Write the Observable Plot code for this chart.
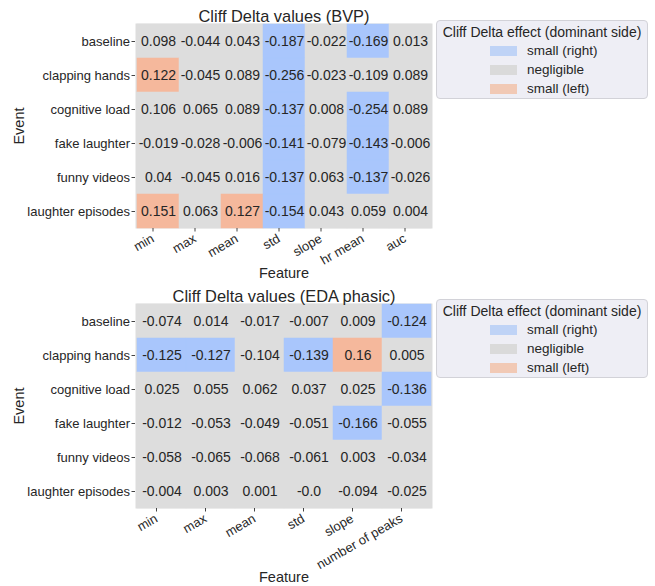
<!DOCTYPE html>
<html>
<head>
<meta charset="utf-8">
<script src="https://cdn.jsdelivr.net/npm/d3@7"></script>
<script src="https://cdn.jsdelivr.net/npm/@observablehq/plot@0.6"></script>
<style>
  html, body { margin: 0; padding: 0; background: #ffffff; }
  body { width: 655px; height: 586px; position: relative; overflow: hidden;
         font-family: 'Liberation Sans', Arial, sans-serif; color: #262626; }
  #top { position: absolute; left: 0; top: 0; }
  #bottom { position: absolute; left: 0; top: 285px; }
  .legend { position: absolute; left: 436px; width: 212px; height: 79px;
            background: rgba(234,234,242,0.8); border: 1px solid #d2d2d8; border-radius: 4px; box-sizing: border-box; }
  .legend .ttl { position: absolute; left: 0; width: 100%; text-align: center; font-size: 14px; line-height: 16px; white-space: nowrap; }
  .legend .sw { position: absolute; left: 53px; width: 27px; height: 10px; }
  .legend .lb { position: absolute; left: 90px; font-size: 13.5px; line-height: 16px; white-space: nowrap; }
</style>
</head>
<body>
<div id="top"></div>
<div id="bottom"></div>
<script>
// ---- data ----
const events = ["baseline", "clapping hands", "cognitive load", "fake laughter", "funny videos", "laughter episodes"];

const featuresBVP = ["min", "max", "mean", "std", "slope", "hr mean", "auc"];
const valuesBVP = [
  [0.098, -0.044, 0.043, -0.187, -0.022, -0.169, 0.013],
  [0.122, -0.045, 0.089, -0.256, -0.023, -0.109, 0.089],
  [0.106, 0.065, 0.089, -0.137, 0.008, -0.254, 0.089],
  [-0.019, -0.028, -0.006, -0.141, -0.079, -0.143, -0.006],
  [0.04, -0.045, 0.016, -0.137, 0.063, -0.137, -0.026],
  [0.151, 0.063, 0.127, -0.154, 0.043, 0.059, 0.004]
];
const effectsBVP = [
  ["N", "N", "N", "R", "N", "R", "N"],
  ["L", "N", "N", "R", "N", "N", "N"],
  ["N", "N", "N", "R", "N", "R", "N"],
  ["N", "N", "N", "R", "N", "R", "N"],
  ["N", "N", "N", "R", "N", "R", "N"],
  ["L", "N", "L", "R", "N", "N", "N"]
];

const featuresEDA = ["min", "max", "mean", "std", "slope", "number of peaks"];
const valuesEDA = [
  [-0.074, 0.014, -0.017, -0.007, 0.009, -0.124],
  [-0.125, -0.127, -0.104, -0.139, 0.16, 0.005],
  [0.025, 0.055, 0.062, 0.037, 0.025, -0.136],
  [-0.012, -0.053, -0.049, -0.051, -0.166, -0.055],
  [-0.058, -0.065, -0.068, -0.061, 0.003, -0.034],
  [-0.004, 0.003, 0.001, -0.0, -0.094, -0.025]
];
const effectsEDA = [
  ["N", "N", "N", "N", "N", "R"],
  ["R", "R", "N", "R", "L", "N"],
  ["N", "N", "N", "N", "N", "R"],
  ["N", "N", "N", "N", "R", "N"],
  ["N", "N", "N", "N", "N", "N"],
  ["N", "N", "N", "N", "N", "N"]
];

const effectCodes = ["R", "N", "L"];
const effectNames = ["small (right)", "negligible", "small (left)"];
const cellColors = ["#a9c6fc", "#dddddd", "#f5b89c"];
const swatchColors = ["#bfd3f6", "#dadada", "#f1c9b5"];
const titles = ["Cliff Delta values (BVP)", "Cliff Delta values (EDA phasic)"];
const legendTitle = "Cliff Delta effect (dominant side)";

// ---- helpers ----
function fmt(v) { return Object.is(v, -0) ? "-0.0" : String(v); }
function rows(features, values, effects) {
  const out = [];
  events.forEach((ev, i) => features.forEach((f, j) => {
    out.push({event: ev, feature: f, value: values[i][j],
              effect: effectNames[effectCodes.indexOf(effects[i][j])]});
  }));
  return out;
}

function heatmap(title, features, values, effects, opts) {
  const data = rows(features, values, effects);
  return Plot.plot({
    width: 440,
    height: opts.height,
    marginLeft: 135,
    marginRight: 8,
    marginTop: opts.marginTop,
    marginBottom: opts.marginBottom,
    style: {fontFamily: "'Liberation Sans', Arial, sans-serif", fontSize: "13px", color: "#262626", background: "transparent", overflow: "visible"},
    x: {domain: features, padding: 0, label: null},
    y: {domain: events, padding: 0, label: null},
    color: {domain: effectNames, range: cellColors},
    marks: [
      Plot.frame({fill: "#dddddd", stroke: null}),
      Plot.cell(data, {x: "feature", y: "event", fill: "effect", stroke: "effect", strokeWidth: 0.5, inset: 0}),
      Plot.text(data, {x: "feature", y: "event", text: d => fmt(d.value), fontSize: 14, fill: "#262626"}),
      Plot.axisX({tickRotate: -30, tickSize: 3.5, tickPadding: 5.5, dx: -5.5, fontSize: 13, label: null, stroke: "#444"}),
      Plot.axisY({tickSize: 3.5, tickPadding: 2, fontSize: 13, label: null, stroke: "#444"}),
      Plot.text([title], {frameAnchor: "top", dy: -7, lineAnchor: "middle", fontSize: 16.4, fill: "#262626"}),
      Plot.text(["Feature"], {frameAnchor: "bottom", dy: opts.featureDy, lineAnchor: "middle", fontSize: 14.5, fill: "#262626"}),
      Plot.text(["Event"], {frameAnchor: "left", dx: -116, rotate: -90, lineAnchor: "middle", textAnchor: "middle", fontSize: 14.5, fill: "#262626"})
    ]
  });
}

document.getElementById("top").appendChild(
  heatmap(titles[0], featuresBVP, valuesBVP, effectsBVP,
          {height: 285, marginTop: 23, marginBottom: 57, featureDy: 45}));
document.getElementById("bottom").appendChild(
  heatmap(titles[1], featuresEDA, valuesEDA, effectsEDA,
          {height: 301, marginTop: 18, marginBottom: 78, featureDy: 69}));

function legend(top) {
  const box = document.createElement("div");
  box.className = "legend";
  box.style.top = top + "px";
  const t = document.createElement("div");
  t.className = "ttl"; t.style.top = "3px"; t.textContent = legendTitle;
  box.appendChild(t);
  effectNames.forEach((name, i) => {
    const cy = 30 + i * 19;
    const sw = document.createElement("div");
    sw.className = "sw"; sw.style.top = (cy - 5) + "px"; sw.style.background = swatchColors[i];
    const lb = document.createElement("div");
    lb.className = "lb"; lb.style.top = (cy - 8) + "px"; lb.textContent = name;
    box.appendChild(sw); box.appendChild(lb);
  });
  document.body.appendChild(box);
}
legend(20);
legend(299);
</script>
</body>
</html>
